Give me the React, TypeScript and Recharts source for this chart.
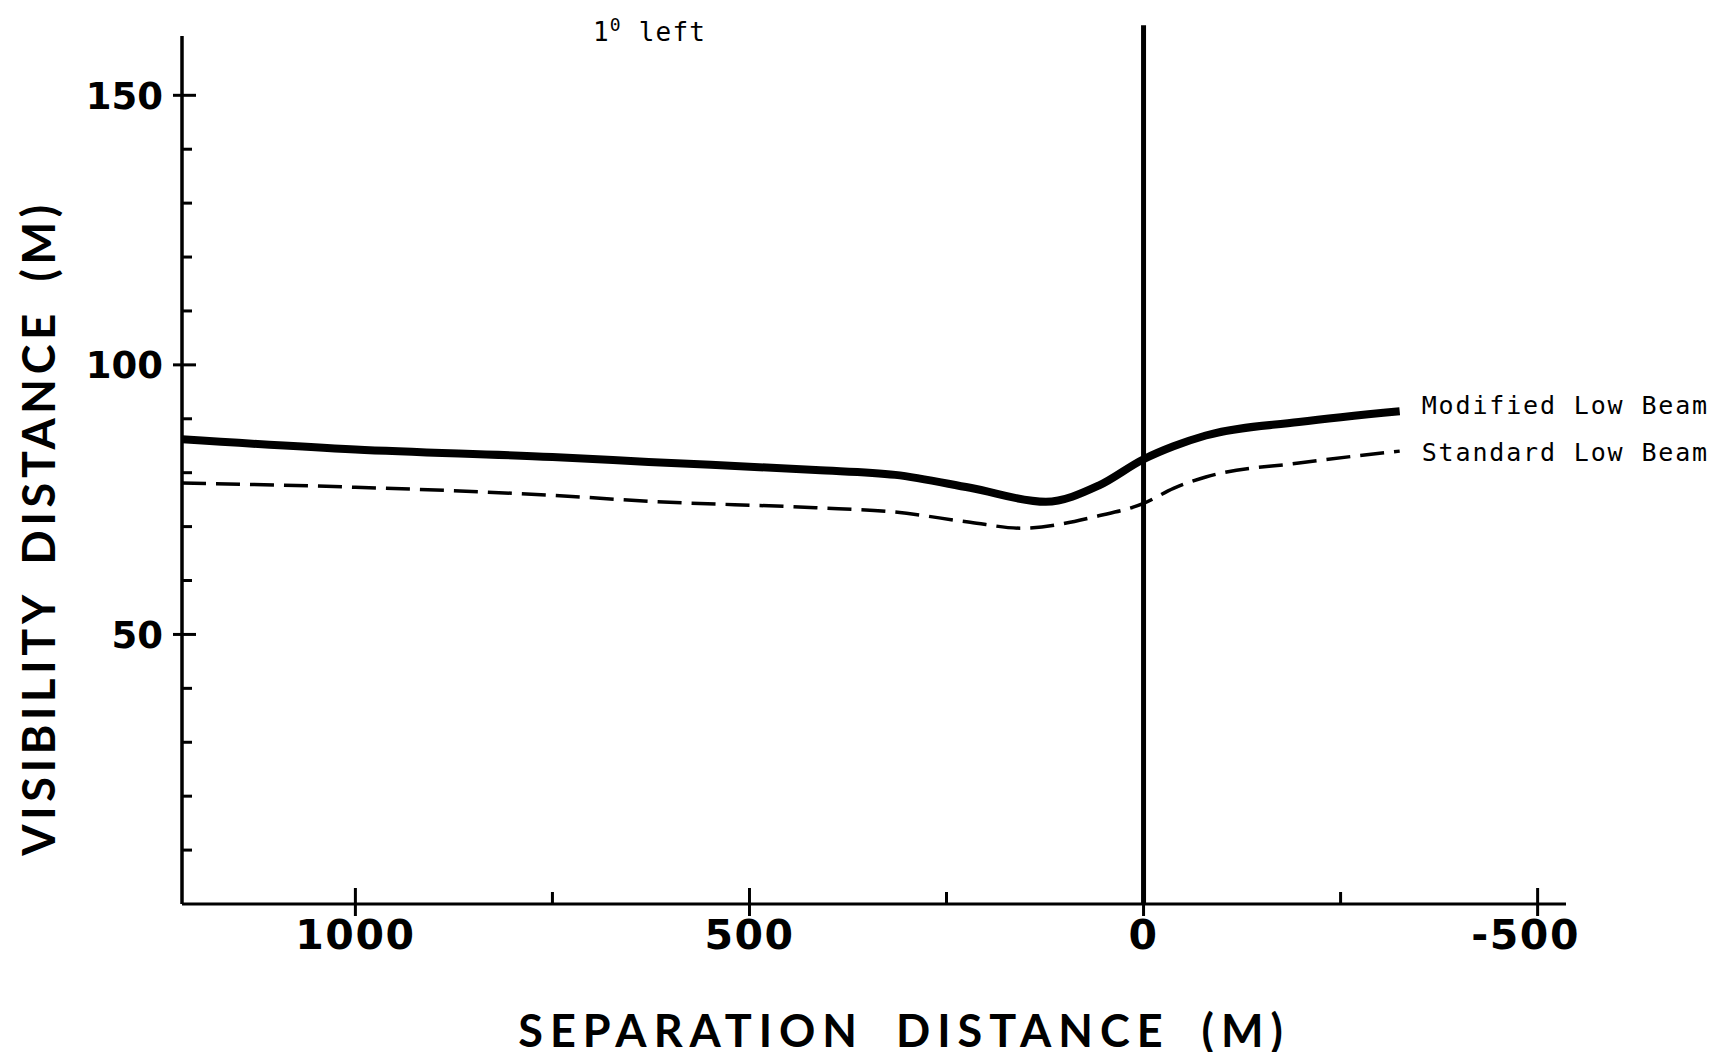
import React from 'react';
import { LineChart, Line, XAxis, YAxis, ReferenceLine, Label } from 'recharts';

const modifiedX = [1220, 1000, 750, 628, 416, 315, 220, 124, 57, 0, -38, -79, -197, -325];
const modifiedY = [86.2, 84.3, 82.9, 82.0, 80.5, 79.6, 77.2, 74.6, 77.6, 82.5, 84.9, 86.9, 89.4, 91.4];

const standardX = [1220, 1000, 750, 628, 416, 315, 220, 155, 57, 0, -38, -79, -197, -325];
const standardY = [78.1, 77.3, 75.8, 74.7, 73.5, 72.7, 70.8, 69.7, 72.0, 74.3, 77.1, 79.2, 81.8, 84.0];

const xTicks = [1000, 750, 500, 250, 0, -250, -500];
const xLabelled = [1000, 500, 0, -500];
const yTicks = [10, 20, 30, 40, 50, 60, 70, 80, 90, 100, 110, 120, 130, 140, 150];
const yLabelled = [50, 100, 150];

const seriesNames = ['Modified Low Beam', 'Standard Low Beam'];

const modifiedData = modifiedX.map((x, i) => ({ x, y: modifiedY[i] }));
const standardData = standardX.map((x, i) => ({ x, y: standardY[i] }));

const tickFont = { fontFamily: 'DejaVu Sans', fontWeight: 700, fill: '#000' };
const monoFont = { fontFamily: 'DejaVu Sans Mono', fontSize: 25, letterSpacing: 1.85, fill: '#000' };

const XTick = (props: any) => {
  const { x, y, payload } = props;
  const v = payload.value;
  const major = xLabelled.includes(v);
  return (
    <g>
      <line x1={x} x2={x} y1={major ? y - 16 : y - 12} y2={major ? y + 12 : y} stroke="#000" strokeWidth={3} />
      {major && (
        <text x={v < 0 ? x - 12 : x} y={y + 45} textAnchor="middle" fontSize={41} letterSpacing={1.5} {...tickFont}>
          {v}
        </text>
      )}
    </g>
  );
};

const YTick = (props: any) => {
  const { x, y, payload } = props;
  const v = payload.value;
  const major = yLabelled.includes(v);
  return (
    <g>
      <line x1={major ? x - 9 : x} x2={major ? x + 14 : x + 10} y1={y} y2={y} stroke="#000" strokeWidth={3} />
      {major && (
        <text x={x - 19} y={y + 13.5} textAnchor="end" fontSize={37} {...tickFont}>
          {v}
        </text>
      )}
    </g>
  );
};

const endLabel = (text: string, count: number, dy: number) => (props: any) => {
  if (props.index !== count - 1) return null;
  return (
    <text x={props.x + 22} y={props.y + dy} {...monoFont}>
      {text}
    </text>
  );
};

const App = () => {
  return (
    <div style={{ position: 'relative', margin: -8, width: 1729, height: 1060, background: '#fff' }}>
      <div
        style={{
          position: 'absolute',
          left: 593,
          top: 12,
          fontFamily: 'DejaVu Sans Mono',
          fontSize: 26,
          lineHeight: '26px',
          letterSpacing: 1.2,
          whiteSpace: 'pre',
        }}
      >
        1<sup style={{ fontSize: 18 }}>0</sup> left
      </div>
      <LineChart width={1729} height={1060} margin={{ top: 36, right: 163, bottom: 0, left: 0 }}>
        <XAxis
          type="number"
          dataKey="x"
          domain={[-536, 1220]}
          reversed
          allowDataOverflow
          ticks={xTicks}
          interval={0}
          tickSize={0}
          tickMargin={0}
          tickLine={false}
          tick={XTick}
          height={156}
          axisLine={{ stroke: '#000', strokeWidth: 3 }}
        >
          <Label
            content={() => (
              <text
                x={904}
                y={1047}
                textAnchor="middle"
                fontFamily="Lato"
                fontWeight={700}
                fontSize={45}
                letterSpacing={7}
                wordSpacing={14}
                fill="#000"
              >
                SEPARATION DISTANCE (M)
              </text>
            )}
          />
        </XAxis>
        <YAxis
          type="number"
          dataKey="y"
          domain={[0, 161]}
          allowDataOverflow
          ticks={yTicks}
          interval={0}
          tickSize={0}
          tickMargin={0}
          tickLine={false}
          tick={YTick}
          width={182}
          axisLine={{ stroke: '#000', strokeWidth: 3.5 }}
        >
          <Label
            content={() => (
              <text
                x={55}
                y={528}
                transform="rotate(-90 55 528)"
                textAnchor="middle"
                fontFamily="Lato"
                fontWeight={700}
                fontSize={45}
                letterSpacing={4.7}
                wordSpacing={12}
                fill="#000"
              >
                VISIBILITY DISTANCE (M)
              </text>
            )}
          />
        </YAxis>
        <ReferenceLine
          segment={[{ x: 0, y: 0 }, { x: 0, y: 163 }]}
          ifOverflow="visible"
          stroke="#000"
          strokeWidth={5}
        />
        <Line
          data={modifiedData}
          dataKey="y"
          name={seriesNames[0]}
          type="monotone"
          stroke="#000"
          strokeWidth={8}
          dot={false}
          activeDot={false}
          isAnimationActive={false}
          label={endLabel(seriesNames[0], modifiedData.length, 3)}
        />
        <Line
          data={standardData}
          dataKey="y"
          name={seriesNames[1]}
          type="monotone"
          stroke="#000"
          strokeWidth={3.5}
          strokeDasharray="24 10"
          dot={false}
          activeDot={false}
          isAnimationActive={false}
          label={endLabel(seriesNames[1], standardData.length, 10)}
        />
      </LineChart>
    </div>
  );
};

export default App;
